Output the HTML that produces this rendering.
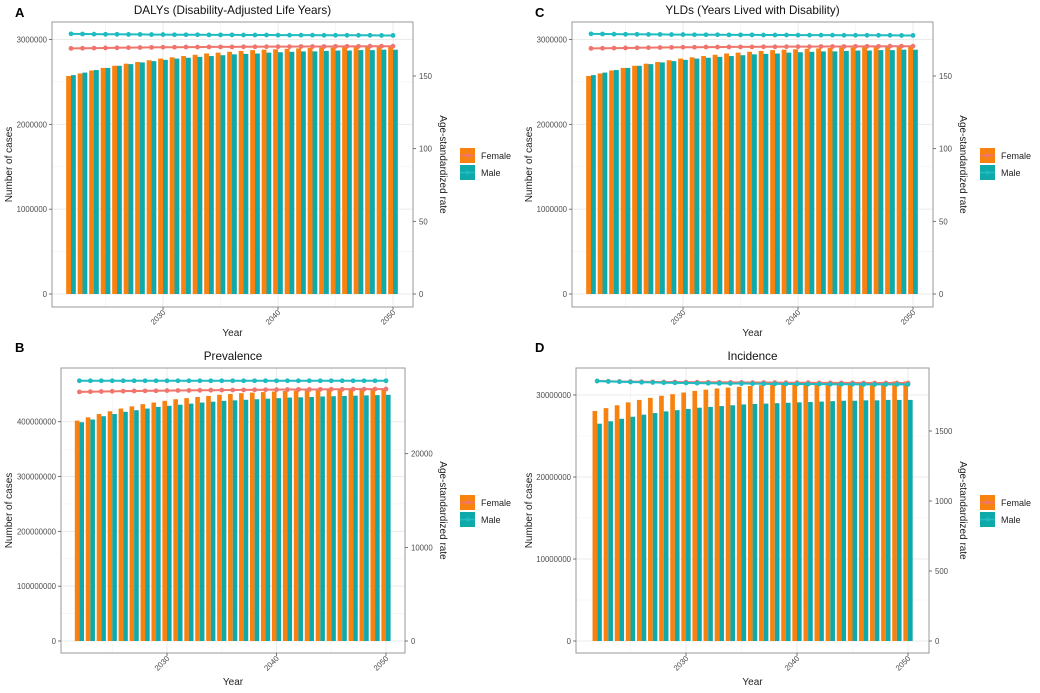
<!DOCTYPE html>
<html><head><meta charset="utf-8">
<style>
body{margin:0;background:#fff;}
svg{display:block;font-family:"Liberation Sans",sans-serif;}
</style></head>
<body>
<svg id="chart" width="1040" height="693" viewBox="0 0 1040 693" xmlns="http://www.w3.org/2000/svg"></svg>
<script>
const years = [];
for (let y = 2022; y <= 2050; y++) years.push(y);

// Panel A / C (DALYs & YLDs) values
const dalyFemaleCases = [2570000,2600000,2635000,2665000,2690000,2715000,2735000,2755000,2775000,2790000,2805000,2820000,2835000,2845000,2855000,2865000,2875000,2880000,2885000,2890000,2895000,2900000,2905000,2905000,2910000,2910000,2915000,2915000,2920000];
const dalyMaleCases = [2580000,2610000,2640000,2665000,2690000,2710000,2730000,2745000,2760000,2775000,2785000,2795000,2805000,2815000,2825000,2830000,2835000,2845000,2850000,2855000,2860000,2860000,2865000,2870000,2870000,2875000,2875000,2880000,2880000];
const dalyFemaleRate = [169,169.1,169.2,169.3,169.4,169.5,169.6,169.7,169.8,169.8,169.9,169.9,170,170,170,170.1,170.1,170.2,170.2,170.2,170.3,170.3,170.3,170.4,170.4,170.4,170.5,170.5,170.5];
const dalyMaleRate = [179,178.9,178.8,178.7,178.7,178.6,178.6,178.5,178.5,178.4,178.4,178.4,178.3,178.3,178.3,178.2,178.2,178.2,178.1,178.1,178.1,178.1,178,178,178,178,178,177.9,177.9];

const yldFemaleCases = dalyFemaleCases.slice();
const yldMaleCases = dalyMaleCases.slice();
const yldFemaleRate = dalyFemaleRate.slice();
const yldMaleRate = dalyMaleRate.slice();

// Panel B (Prevalence)
const prevFemaleCases = [402e6,408e6,414e6,419e6,424e6,428e6,432e6,435e6,438e6,441e6,443e6,445e6,447e6,449e6,450.5e6,452e6,453e6,454e6,455e6,456e6,456.5e6,457e6,457.5e6,458e6,458.5e6,459e6,459e6,459.5e6,459.5e6];
const prevMaleCases = [399e6,404e6,410e6,414e6,418e6,421e6,424e6,427e6,429e6,431e6,433e6,435e6,436.5e6,438e6,439e6,440e6,441e6,442e6,443e6,444e6,444.5e6,445e6,446e6,446.5e6,447e6,447.5e6,448e6,448.5e6,449e6];
const prevFemaleRate = [26600,26620,26640,26660,26680,26700,26710,26720,26740,26750,26760,26770,26780,26790,26800,26810,26820,26830,26840,26850,26860,26860,26870,26880,26880,26890,26890,26900,26900];
const prevMaleRate = [27790,27790,27790,27790,27790,27790,27790,27790,27790,27790,27790,27790,27790,27790,27790,27790,27790,27790,27790,27790,27790,27790,27790,27790,27790,27790,27790,27790,27790];

// Panel D (Incidence)
const incFemaleCases = [28.05e6,28.4e6,28.75e6,29.1e6,29.4e6,29.65e6,29.9e6,30.1e6,30.3e6,30.5e6,30.65e6,30.8e6,30.9e6,31.0e6,31.1e6,31.2e6,31.3e6,31.35e6,31.4e6,31.45e6,31.5e6,31.5e6,31.55e6,31.55e6,31.6e6,31.6e6,31.6e6,31.65e6,31.65e6];
const incMaleCases = [26.5e6,26.8e6,27.1e6,27.35e6,27.6e6,27.8e6,28.0e6,28.15e6,28.3e6,28.45e6,28.55e6,28.65e6,28.75e6,28.85e6,28.9e6,28.95e6,29.0e6,29.05e6,29.1e6,29.15e6,29.2e6,29.25e6,29.3e6,29.3e6,29.35e6,29.35e6,29.4e6,29.4e6,29.4e6];
const incFemaleRate = [1857,1855,1854,1853,1852,1851,1850,1850,1849,1849,1848,1848,1847,1847,1846,1846,1846,1845,1845,1845,1844,1844,1844,1844,1843,1843,1843,1843,1843];
const incMaleRate = [1857,1854,1852,1850,1848,1847,1845,1844,1843,1842,1841,1840,1839,1839,1838,1837,1837,1836,1836,1835,1835,1834,1834,1834,1833,1833,1833,1833,1833];

const dalyLeftTicks = [0,1000000,2000000,3000000];
const dalyRightTicks = [0,50,100,150];
const prevLeftTicks = [0,100000000,200000000,300000000,400000000];
const prevRightTicks = [0,10000,20000];
const incLeftTicks = [0,10000000,20000000,30000000];
const incRightTicks = [0,500,1000,1500];
const xTicks = [2030,2040,2050];

const NS = "http://www.w3.org/2000/svg";
const svg = document.getElementById('chart');
function mk(tag, attrs, parent){
  const e = document.createElementNS(NS, tag);
  for (const k in attrs) e.setAttribute(k, attrs[k]);
  (parent||svg).appendChild(e);
  return e;
}

const panels = [
  {id:'a', letter:'A', title:'DALYs (Disability-Adjusted Life Years)', ox:0,
   box:[52,22,413,307], x2030:163, step:11.5, zero:294, lRef:3000000, lRefY:39.5, rRef:150, rRefY:76,
   fc:dalyFemaleCases, mc:dalyMaleCases, fr:dalyFemaleRate, mr:dalyMaleRate, lt:dalyLeftTicks, rt:dalyRightTicks,
   letterY:17, titleY:14, legY:148, yTitleX:12, rTitleX:440, xTitleY:336},
  {id:'c', letter:'C', title:'YLDs (Years Lived with Disability)', ox:520,
   box:[52,22,413,307], x2030:163, step:11.5, zero:294, lRef:3000000, lRefY:39.5, rRef:150, rRefY:76,
   fc:yldFemaleCases, mc:yldMaleCases, fr:yldFemaleRate, mr:yldMaleRate, lt:dalyLeftTicks, rt:dalyRightTicks,
   letterY:17, titleY:14, legY:148, yTitleX:12, rTitleX:440, xTitleY:336},
  {id:'b', letter:'B', title:'Prevalence', ox:0,
   box:[61,368,405,653], x2030:167, step:10.95, zero:641, lRef:400000000, lRefY:421.7, rRef:20000, rRefY:453.7,
   fc:prevFemaleCases, mc:prevMaleCases, fr:prevFemaleRate, mr:prevMaleRate, lt:prevLeftTicks, rt:prevRightTicks,
   letterY:352, titleY:360, legY:495, yTitleX:12, rTitleX:440, xTitleY:685},
  {id:'d', letter:'D', title:'Incidence', ox:520,
   box:[56,368,409,653], x2030:166, step:11.1, zero:641, lRef:30000000, lRefY:395, rRef:1500, rRefY:431,
   fc:incFemaleCases, mc:incMaleCases, fr:incFemaleRate, mr:incMaleRate, lt:incLeftTicks, rt:incRightTicks,
   letterY:352, titleY:360, legY:495, yTitleX:12, rTitleX:440, xTitleY:685}
];

panels.forEach(p => {
  const g = mk('g', {transform:`translate(${p.ox},0)`});
  
  
  const [x0,y0,x1,y1] = p.box;
  const xs = yr => p.x2030 + (yr-2030)*p.step;
  const yl = v => p.zero - v/p.lRef*(p.zero-p.lRefY);
  const yr = v => p.zero - v/p.rRef*(p.zero-p.rRefY);

  const bg = mk('rect', {x:x0,y:y0,width:x1-x0,height:y1-y0,fill:'#fff'}, g);
  
  
  for (let i=0;i<p.lt.length-1;i++){
    const v=(p.lt[i]+p.lt[i+1])/2;
    mk('line',{x1:x0,x2:x1,y1:yl(v),y2:yl(v),stroke:'#f2f2f2','stroke-width':0.6},g);
  }
  [2025,2035,2045].forEach(t=>mk('line',{x1:xs(t),x2:xs(t),y1:y0,y2:y1,stroke:'#f2f2f2','stroke-width':0.6},g));
  p.lt.forEach(t=>mk('line',{x1:x0,x2:x1,y1:yl(t),y2:yl(t),stroke:'#ebebeb','stroke-width':1},g));
  xTicks.forEach(t=>mk('line',{x1:xs(t),x2:xs(t),y1:y0,y2:y1,stroke:'#ebebeb','stroke-width':1},g));

  const bw = p.step*0.42;
  years.forEach((y,i)=>{
    const cx = xs(y);
    const fb = mk('rect',{x:cx-bw,y:yl(p.fc[i]),width:bw,height:p.zero-yl(p.fc[i]),fill:'#F7820F'},g);
    
    
    const mb = mk('rect',{x:cx,y:yl(p.mc[i]),width:bw,height:p.zero-yl(p.mc[i]),fill:'#10A9A9'},g);
    
    
  });

  [[p.fr,'#F0766D','female'],[p.mr,'#1FBCC1','male']].forEach(([arr,col,nm])=>{
    const pts = years.map((y,i)=>`${xs(y)},${yr(arr[i])}`).join(' ');
    const pl = mk('polyline',{points:pts,fill:'none',stroke:col,'stroke-width':2},g);
    
    
    years.forEach((y,i)=>{
      const c = mk('circle',{cx:xs(y),cy:yr(arr[i]),r:2.4,fill:col},g);
      
      
    });
  });

  mk('rect',{x:x0,y:y0,width:x1-x0,height:y1-y0,fill:'none',stroke:'#9a9a9a','stroke-width':1},g);

  p.lt.forEach(t=>{
    mk('line',{x1:x0-3,x2:x0,y1:yl(t),y2:yl(t),stroke:'#555','stroke-width':0.8},g);
    const tx = mk('text',{x:x0-5,y:yl(t)+3,'text-anchor':'end','font-size':7.8,fill:'#4d4d4d'},g);
    tx.textContent = String(t);
    
    
  });
  p.rt.forEach(t=>{
    mk('line',{x1:x1,x2:x1+3,y1:yr(t),y2:yr(t),stroke:'#555','stroke-width':0.8},g);
    const tx = mk('text',{x:x1+6,y:yr(t)+3,'font-size':7.8,fill:'#4d4d4d'},g);
    tx.textContent = String(t);
    
    
  });
  xTicks.forEach(t=>{
    mk('line',{x1:xs(t),x2:xs(t),y1:y1,y2:y1+3,stroke:'#555','stroke-width':0.8},g);
    const tx = mk('text',{x:xs(t)+3,y:y1+6,'text-anchor':'end','font-size':7.8,fill:'#4d4d4d',transform:`rotate(-45 ${xs(t)+3} ${y1+6})`},g);
    tx.textContent = String(t);
    
    
  });

  const cxm = (x0+x1)/2;
  const tl = mk('text',{x:cxm,y:p.titleY,'text-anchor':'middle','font-size':11.7,fill:'#111'},g);
  tl.textContent = p.title;
  
  
  const lt = mk('text',{x:15,y:p.letterY,'font-size':13,'font-weight':'bold',fill:'#000'},g);
  lt.textContent = p.letter;
  
  
  const xt = mk('text',{x:cxm,y:p.xTitleY,'text-anchor':'middle','font-size':10,fill:'#222'},g);
  xt.textContent = 'Year';
  
  
  const ymid = (y0+y1)/2;
  const yt = mk('text',{x:p.yTitleX,y:ymid,'text-anchor':'middle','font-size':10,fill:'#222',transform:`rotate(-90 ${p.yTitleX} ${ymid})`},g);
  yt.textContent = 'Number of cases';
  
  
  const rt = mk('text',{x:p.rTitleX,y:ymid,'text-anchor':'middle','font-size':10,fill:'#222',transform:`rotate(90 ${p.rTitleX} ${ymid})`},g);
  rt.textContent = 'Age-standardized  rate';
  
  

  [['Female','#F7820F','#F0766D'],['Male','#10A9A9','#1FBCC1']].forEach(([lab,fill,lc],i)=>{
    const ly = p.legY + i*17;
    const lg = mk('g',{},g);
    
    
    mk('rect',{x:460,y:ly,width:15,height:15,fill:fill},lg);
    mk('line',{x1:460,x2:475,y1:ly+7.5,y2:ly+7.5,stroke:lc,'stroke-width':1.5},lg);
    mk('circle',{cx:467.5,cy:ly+7.5,r:2,fill:lc},lg);
    const t = mk('text',{x:481,y:ly+11,'font-size':9,fill:'#222'},lg);
    t.textContent = lab;
  });
});
</script>
</body></html>
